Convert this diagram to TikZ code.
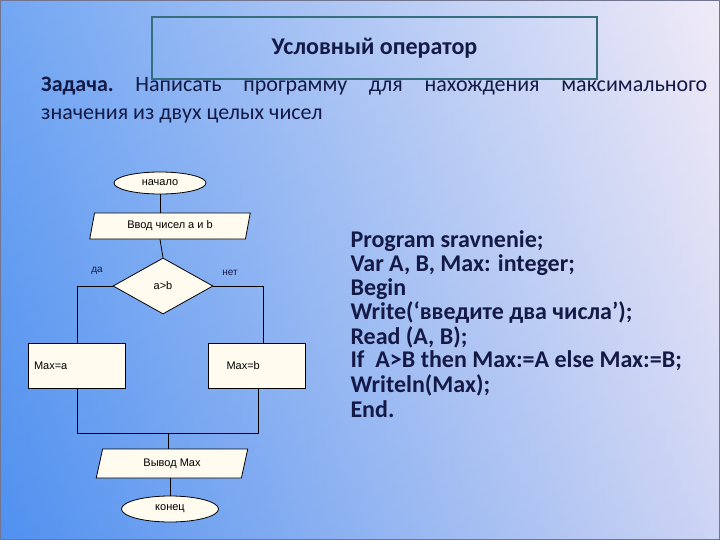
\documentclass[tikz,border=0pt]{standalone}
\usepackage{fontspec}
\setmainfont{Carlito}
\newfontfamily\flow{Liberation Sans}
\usetikzlibrary{shapes.geometric,arrows.meta}
\definecolor{navy}{RGB}{20,25,70}
\definecolor{cream}{RGB}{255,251,238}
\definecolor{bl}{RGB}{80,145,240}
\definecolor{lav}{RGB}{238,230,245}
\definecolor{teal}{RGB}{55,110,125}
\begin{document}
\begin{tikzpicture}[x=1pt,y=-1pt,
  blk/.style={draw=black,line width=0.8pt,fill=cream,font=\flow\fontsize{11}{12}\selectfont,inner sep=0pt},
  io/.style={blk,trapezium,trapezium left angle=75,trapezium right angle=105,trapezium stretches=true},
  term/.style={blk,ellipse},
  dec/.style={blk,diamond,aspect=1.8},
  proc/.style={blk,rectangle},
  ln/.style={draw=black,line width=0.8pt},
  code/.style={anchor=west,text=navy,font=\bfseries\fontsize{24}{26}\selectfont}]
\useasboundingbox (0,0) rectangle (720,540);
\shade[left color=bl,right color=lav] (0,0) rectangle (720,540);
\shade[top color=white,bottom color=bl,opacity=0.2] (0,0) rectangle (720,540);
\draw[navy!60,line width=0.6pt] (0.5,0.5) rectangle (719.5,539.5);
\node[draw=teal,line width=2pt,minimum width=445,minimum height=62,inner sep=0pt,text=navy,font=\bfseries\fontsize{24}{26}\selectfont] (title) at (374.5,48) {Условный оператор};
\node[anchor=north west,text=navy,text width=666,inner sep=0pt,font=\fontsize{22}{28}\selectfont,align=justify] (task) at (41,77)
 {\textbf{Задача.}\hfill Написать\hfill программу\hfill для\hfill нахождения\hfill максимального\\значения из двух целых чисел};
% flowchart
\node[term,minimum width=92,minimum height=22] (start) at (160,183) {начало};
\node[io,minimum width=162,minimum height=26] (in) at (170,226) {Ввод чисел a и b};
\node[dec,minimum width=100,minimum height=56] (cond) at (163,286) {a>b};
\node[proc,minimum width=97,minimum height=45,align=left,text width=85] (ma) at (76.5,365.5) {Max=a};
\node[proc,minimum width=97,minimum height=45,align=left,text width=60] (mb) at (256.5,365.5) {Max=b};
\node[io,minimum width=152,minimum height=29] (out) at (172,463.5) {Вывод Max};
\node[term,minimum width=97,minimum height=26] (end) at (170,509) {конец};
\node[text=navy,font=\flow\fontsize{10}{11}\selectfont] (da) at (97,271) {да};
\node[text=navy,font=\flow\fontsize{10}{11}\selectfont] (net) at (230,273) {нет};
\coordinate (m1) at (168,433);
\draw[ln] (start) -- (start|-in.north);
\draw[ln] (in.south-|start) -- (cond.north);
\draw[ln] (cond.west) -| (77,343);
\draw[ln] (cond.east) -| (263,343);
\draw[ln] (77,388) |- (258,433) -- (258,388);
\draw[ln] (m1) -- (m1|-out.north);
\draw[ln] (out.south-|end) -- (end.north);
% code
\node[code] (c1) at (347,241) {Program sravnenie;};
\node[code] (c2) at (347,265) {Var A, B, Max: integer;};
\node[code] (c3) at (347,289) {Begin};
\node[code] (c4) at (347,313) {Write(‘введите два числа’);};
\node[code] (c5) at (347,337) {Read (A, B);};
\node[code] (c6) at (347,361) {If\ \ A>B then Max:=A else Max:=B;};
\node[code] (c7) at (347,385) {Writeln(Max);};
\node[code] (c8) at (347,409) {End.};
\end{tikzpicture}
\end{document}
